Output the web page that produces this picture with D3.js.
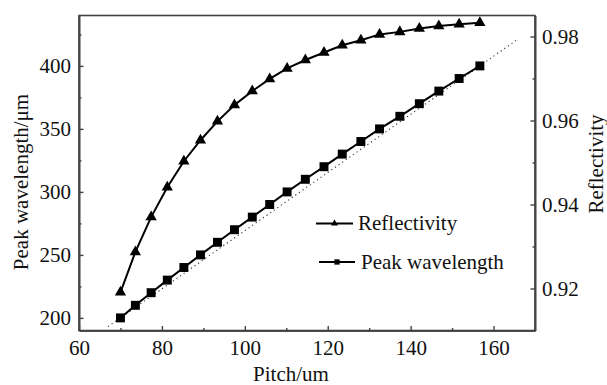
<!DOCTYPE html>
<html>
<head>
<meta charset="utf-8">
<script src="https://cdn.jsdelivr.net/npm/d3@7"></script>
<style>
  html, body { margin: 0; padding: 0; background: #ffffff; }
  svg { display: block; }
  svg text { font-family: "Liberation Serif", "Times New Roman", Times, serif !important; fill: #111; }
</style>
</head>
<body>
<svg id="chart" width="607" height="385"></svg>
<script>
// ---- data ----
const pitch = [70, 73.6, 77.4, 81.3, 85.3, 89.3, 93.4, 97.5, 101.8, 106.0, 110.2,
               114.6, 119.1, 123.5, 128.0, 132.5, 137.4, 142.1, 146.8, 151.7, 156.7];
const peakWavelength = [200, 210, 220, 230, 240, 250, 260, 270, 280, 290, 300,
                        310, 320, 330, 340, 350, 360, 370, 380, 390, 400];
const reflectivity = [0.9191, 0.9287, 0.9370, 0.9441, 0.9503, 0.9553, 0.9598, 0.9637,
                      0.9670, 0.9699, 0.9724, 0.9744, 0.9762, 0.9779, 0.9791, 0.9805,
                      0.9811, 0.9819, 0.9825, 0.9829, 0.9833];
const refPitch = [67, 166];
const refWavelength = [193.1, 421.5];

const xTicks = [60, 80, 100, 120, 140, 160];
const xMinor = [70, 90, 110, 130, 150];
const yLeftTicks = [200, 250, 300, 350, 400];
const yLeftMinor = [225, 275, 325, 375, 425];
const yRightTicks = [0.92, 0.94, 0.96, 0.98];
const yRightMinor = [0.93, 0.95, 0.97];

const xLabel = "Pitch/um";
const yLeftLabel = "Peak wavelength/μm";
const yRightLabel = "Reflectivity";
const legendNames = ["Reflectivity", "Peak wavelength"];

// ---- layout ----
const svg = d3.select("#chart");
const L = 79, R = 535, T = 15.5, B = 330.5;
const FS = 21;
const SERIF = '"Liberation Serif", "Times New Roman", Times, serif';

const x = d3.scaleLinear().domain([60, 170]).range([L, R]);
const yL = d3.scaleLinear().domain([190, 440]).range([B, T]);
const yR = d3.scaleLinear().domain([0.91, 0.985]).range([B, T]);

const axisColor = "#444";

// frame
svg.append("rect").attr("x", L).attr("y", T).attr("width", R - L).attr("height", B - T)
  .attr("fill", "none").attr("stroke", axisColor).attr("stroke-width", 1.6);

// bottom axis
const gx = svg.append("g").attr("transform", `translate(0,${B})`)
  .call(d3.axisBottom(x).tickValues(xTicks).tickSizeInner(-4.5).tickSizeOuter(0).tickPadding(10));
const gxm = svg.append("g").attr("transform", `translate(0,${B})`)
  .call(d3.axisBottom(x).tickValues(xMinor).tickSizeInner(-2.5).tickSizeOuter(0).tickFormat(""));
// left axis
const gy = svg.append("g").attr("transform", `translate(${L},0)`)
  .call(d3.axisLeft(yL).tickValues(yLeftTicks).tickSizeInner(-4.5).tickSizeOuter(0).tickPadding(8));
const gym = svg.append("g").attr("transform", `translate(${L},0)`)
  .call(d3.axisLeft(yL).tickValues(yLeftMinor).tickSizeInner(-2.5).tickSizeOuter(0).tickFormat(""));
// right axis
const gr = svg.append("g").attr("transform", `translate(${R},0)`)
  .call(d3.axisRight(yR).tickValues(yRightTicks).tickSizeInner(-4.5).tickSizeOuter(0).tickPadding(7)
    .tickFormat(d3.format(".2f")));
const grm = svg.append("g").attr("transform", `translate(${R},0)`)
  .call(d3.axisRight(yR).tickValues(yRightMinor).tickSizeInner(-2.5).tickSizeOuter(0).tickFormat(""));

[gx, gxm, gy, gym, gr, grm].forEach(g => {
  g.attr("font-family", SERIF).attr("font-size", FS);
  g.select(".domain").attr("stroke", axisColor).attr("stroke-width", 1.6);
  g.selectAll(".tick line").attr("stroke", axisColor).attr("stroke-width", 1.4);
  g.selectAll(".tick text").style("font-size", FS + "px")
    .style("font-family", SERIF).attr("fill", "#111");
});

// axis titles
svg.append("text").attr("x", 291).attr("y", 381).attr("text-anchor", "middle")
  .style("font-size", FS + "px").text(xLabel);
svg.append("text").attr("transform", `translate(28,182) rotate(-90)`).attr("text-anchor", "middle")
  .style("font-size", FS + "px").text(yLeftLabel);
svg.append("text").attr("transform", `translate(603,164) rotate(-90)`).attr("text-anchor", "middle")
  .style("font-size", FS + "px").text(yRightLabel);

// reference dotted line
svg.append("path")
  .datum(refPitch.map((p, i) => [p, refWavelength[i]]))
  .attr("d", d3.line().x(d => x(d[0])).y(d => yL(d[1])))
  .attr("fill", "none").attr("stroke", "#333").attr("stroke-width", 1.1)
  .attr("stroke-dasharray", "1.2,3.2");

// peak wavelength series
const wlData = pitch.map((p, i) => [p, peakWavelength[i]]);
svg.append("path").datum(wlData)
  .attr("d", d3.line().x(d => x(d[0])).y(d => yL(d[1])))
  .attr("fill", "none").attr("stroke", "#000").attr("stroke-width", 2);
svg.append("g").selectAll("path").data(wlData).join("path")
  .attr("transform", d => `translate(${x(d[0])},${yL(d[1])})`)
  .attr("d", d3.symbol(d3.symbolSquare, 80))
  .attr("fill", "#000");

// reflectivity series
const rfData = pitch.map((p, i) => [p, reflectivity[i]]);
svg.append("path").datum(rfData)
  .attr("d", d3.line().x(d => x(d[0])).y(d => yR(d[1])))
  .attr("fill", "none").attr("stroke", "#000").attr("stroke-width", 2);
svg.append("g").selectAll("path").data(rfData).join("path")
  .attr("transform", d => `translate(${x(d[0])},${yR(d[1])})`)
  .attr("d", d3.symbol(d3.symbolTriangle, 55))
  .attr("fill", "#000");

// legend
const legend = [
  { name: legendNames[0], sym: d3.symbolTriangle, size: 22, x1: 316, x2: 353, tx: 358, y: 223.5 },
  { name: legendNames[1], sym: d3.symbolSquare, size: 28, x1: 319, x2: 355, tx: 361, y: 262 }
];
const lg = svg.append("g").selectAll("g").data(legend).join("g");
lg.append("line").attr("x1", d => d.x1).attr("x2", d => d.x2)
  .attr("y1", d => d.y).attr("y2", d => d.y).attr("stroke", "#000").attr("stroke-width", 1.8);
lg.append("path").attr("transform", d => `translate(${(d.x1 + d.x2) / 2},${d.y})`)
  .attr("d", d => d3.symbol(d.sym, d.size)()).attr("fill", "#000");
lg.append("text").attr("x", d => d.tx).attr("y", d => d.y + 6.5)
  .style("font-size", FS + "px").text(d => d.name);
</script>
</body>
</html>
